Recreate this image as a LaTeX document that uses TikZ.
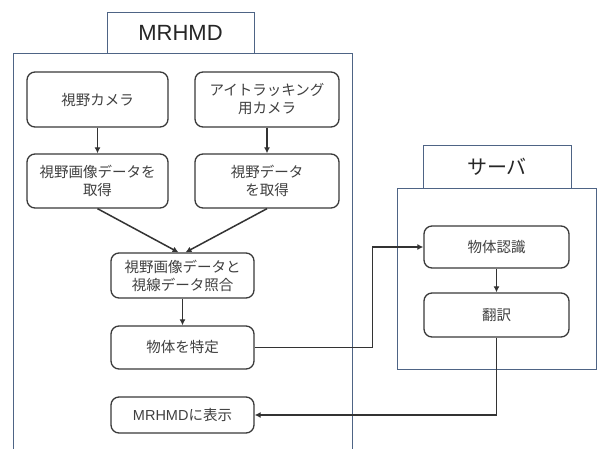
\documentclass[tikz,border=0pt]{standalone}
\usepackage{fontspec}
\setmainfont{Noto Sans CJK JP}
\newfontfamily\latinfont{Liberation Sans}
\usetikzlibrary{arrows.meta}
\definecolor{frame}{HTML}{4E6485}
\definecolor{boxline}{HTML}{3A3A3A}
\definecolor{txt}{HTML}{404040}
\tikzset{
  container/.style={draw=frame, line width=1pt, fill=white},
  stepbox/.style={draw=boxline, line width=1.3pt, rounded corners=8pt, fill=white,
    align=center, text=txt, font=\fontsize{14.5}{18}\selectfont, inner sep=2pt},
  title/.style={text=black!85, font=\fontsize{20}{24}\selectfont},
  arr/.style={draw=black!80, line width=1.5pt, -{Latex[length=6pt,width=6pt]}},
}
\begin{document}
\begin{tikzpicture}[x=1pt,y=-1pt]
\useasboundingbox (0,0) rectangle (597,448);
\clip (0,0) rectangle (597,448);
% containers
\draw[container] (13,53) rectangle (352,470);
\draw[container] (107,12) rectangle (254,53);
\node[title, font=\latinfont\fontsize{22}{26}\selectfont] (mrhmdt) at (180.5,33) {MRHMD};
\draw[container] (397,188) rectangle (596.5,369);
\draw[container] (423,145) rectangle (571,188);
\node[title] (servert) at (497,167) {サーバ};
% boxes
\node[stepbox, minimum width=141pt, minimum height=55pt] (cam) at (97.5,99.5) {視野カメラ};
\node[stepbox, minimum width=144pt, minimum height=55pt] (eye) at (267,99.5) {アイトラッキング\\用カメラ};
\node[stepbox, minimum width=141pt, minimum height=54pt] (get1) at (97.5,181) {視野画像データを\\取得};
\node[stepbox, minimum width=144pt, minimum height=54pt] (get2) at (267,181) {視野データ\\を取得};
\node[stepbox, minimum width=143pt, minimum height=45pt] (match) at (182.5,275.5) {視野画像データと\\視線データ照合};
\node[stepbox, minimum width=143pt, minimum height=43pt] (obj) at (182.5,347.5) {物体を特定};
\node[stepbox, minimum width=143pt, minimum height=36pt] (disp) at (182.5,415) {{\latinfont MRHMD}に表示};
\node[stepbox, minimum width=145pt, minimum height=42pt] (recog) at (496.5,247) {物体認識};
\node[stepbox, minimum width=145pt, minimum height=44pt] (trans) at (496.5,315) {翻訳};
% connectors
\draw[arr] (cam) -- (get1);
\draw[arr] (eye) -- (get2);
\draw[arr] (get1.south) -- ([xshift=-4pt]match.north);
\draw[arr] (get2.south) -- ([xshift=3pt]match.north);
\draw[arr] (match) -- (obj);
\draw[arr] (obj.east) -- ++(118,0) |- (recog.west);
\draw[arr] (recog) -- (trans);
\draw[arr] (trans.south) |- (disp.east);
\end{tikzpicture}
\end{document}
